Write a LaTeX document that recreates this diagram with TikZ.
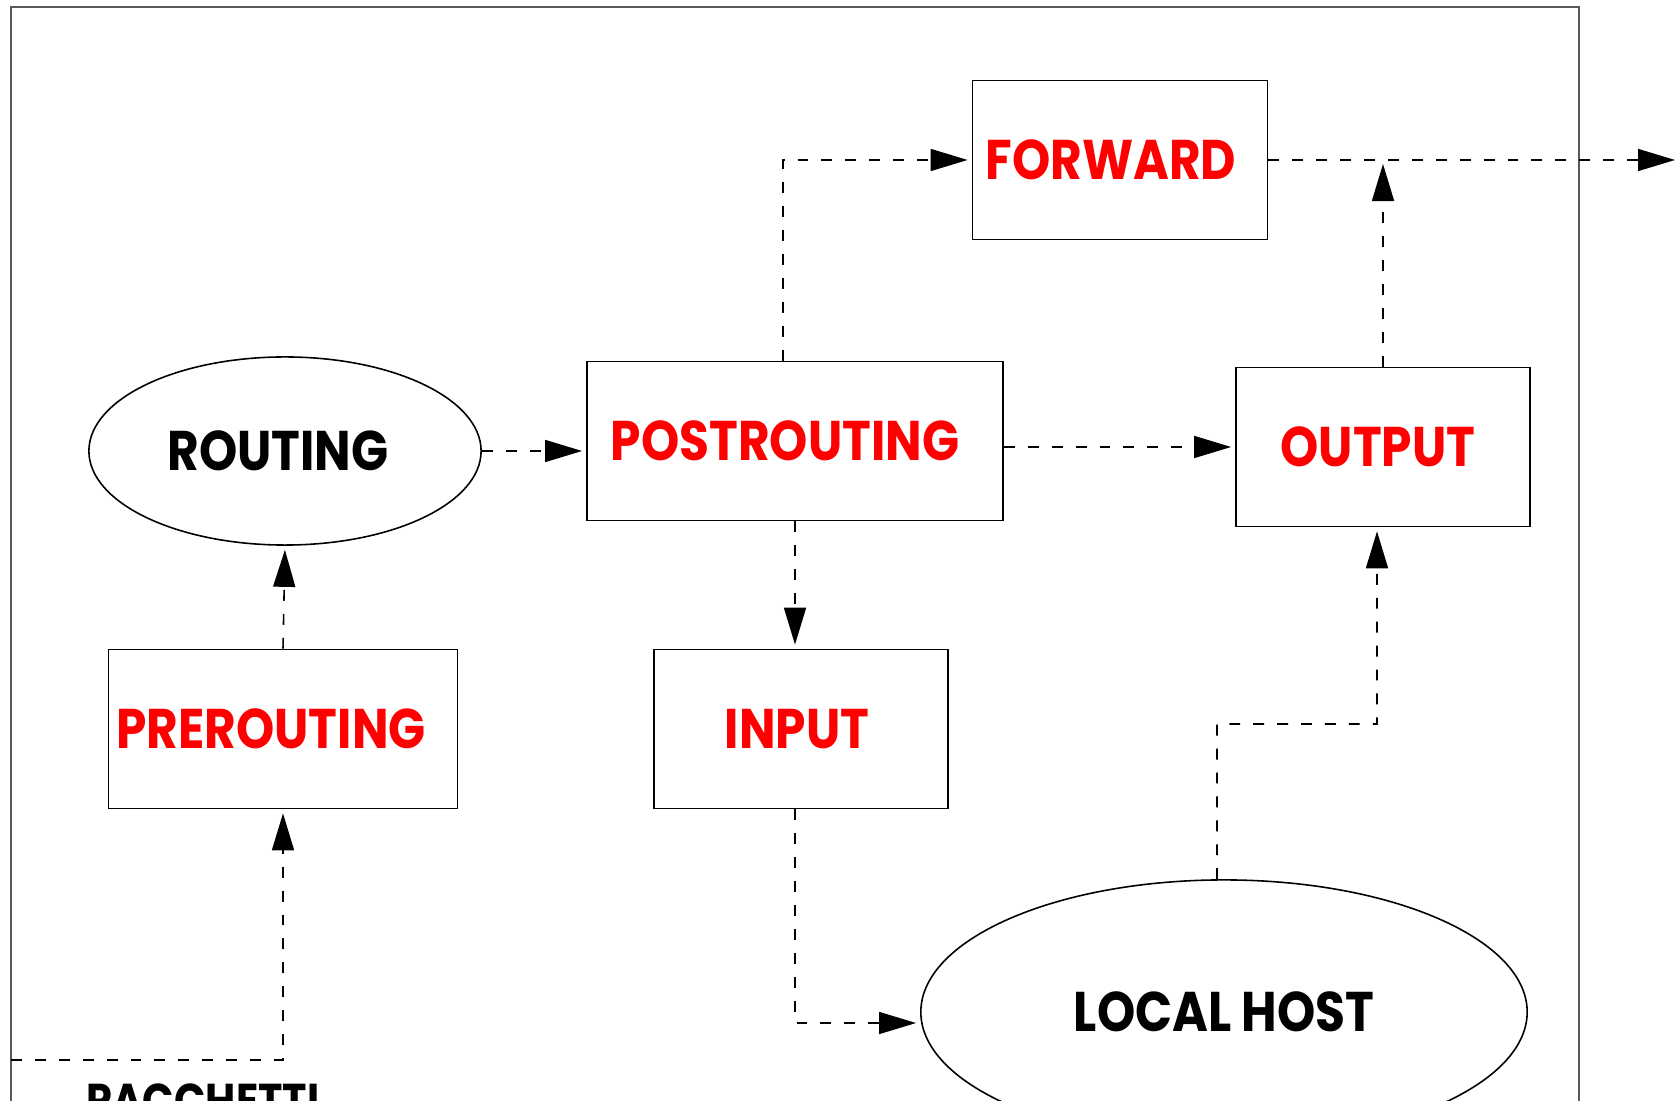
\documentclass[tikz,border=0pt]{standalone}
\usepackage{fontspec}
\setmainfont{Poppins}[FakeStretch=0.87]
\usetikzlibrary{arrows.meta,shapes.geometric}

\tikzset{
  hook/.style={draw, line width=0.45pt, minimum height=1.59cm, inner sep=0pt,
    text=red, font=\bfseries\fontsize{15.9}{18}\selectfont},
  blob/.style={draw, ellipse, line width=0.45pt, inner sep=0pt,
    font=\bfseries\fontsize{15.9}{18}\selectfont},
  flow/.style={line width=0.45pt, dash pattern=on 3.1pt off 3.7pt,
    -{Triangle[length=3.7mm,width=2.2mm]}, shorten >=0.4mm},
}

\begin{document}
\begin{tikzpicture}[x=0.01cm,y=-0.01cm]
        \useasboundingbox (0,0) rectangle (1679,1101);

        % Frame
        \draw[black!65, line width=0.55pt] (11,1101) -- (11,7) -- (1579,7) -- (1579,1101);

        % Chains
        \node[hook, minimum width=2.95cm] (fwd) at (1120,160) {FORWARD\kern0.18cm};
        \node[hook, minimum width=4.16cm] (post) at (795,441) {POSTROUTING\kern0.2cm};
        \node[hook, minimum width=2.94cm] (out) at (1383,447) {OUTPUT\kern0.1cm};
        \node[hook, minimum width=3.49cm] (pre) at (283,729) {PREROUTING\kern0.24cm};
        \node[hook, minimum width=2.94cm] (inp) at (801,729) {INPUT\kern0.08cm};

        % Routing and host
        \node[blob, minimum width=3.92cm, minimum height=1.88cm] (route) at (285,451) {ROUTING\kern0.14cm};
        \node[blob, minimum width=6.06cm, minimum height=2.64cm] (host) at (1224,1012) {LOCAL HOST};

        % Packets in
        \node[inner sep=0pt, anchor=north, font=\bfseries\fontsize{13.5}{16}\selectfont] (pkt) at (203,1083) {PACCHETTI};
        \coordinate (entry) at (11,1060);
        \coordinate (exit) at (1679,160);
        \coordinate (bend) at (1217,724);

        % Paths
        \draw[flow] (entry) -| (pre.south);
        \draw[flow] (pre.north) -- (route.south);
        \draw[flow] (route.east) -- (route.east -| post.west);
        \draw[flow] ([xshift=-0.12cm]post.north) |- (fwd.west);
        \draw[flow] (post.south) -- (post.south |- inp.north);
        \draw[flow] (post.east |- out.west) -- (out.west);
        \draw[flow] (out.north) -- (out.north |- fwd.east);
        \draw[flow] (fwd.east) -- (exit);
        \draw[flow] (post.south |- inp.south) |- ([yshift=-0.11cm]host.west);
        \draw[flow] ([xshift=-0.07cm]host.north) -- (bend) -| ([xshift=-0.06cm]out.south);
    \end{tikzpicture}
\end{document}
